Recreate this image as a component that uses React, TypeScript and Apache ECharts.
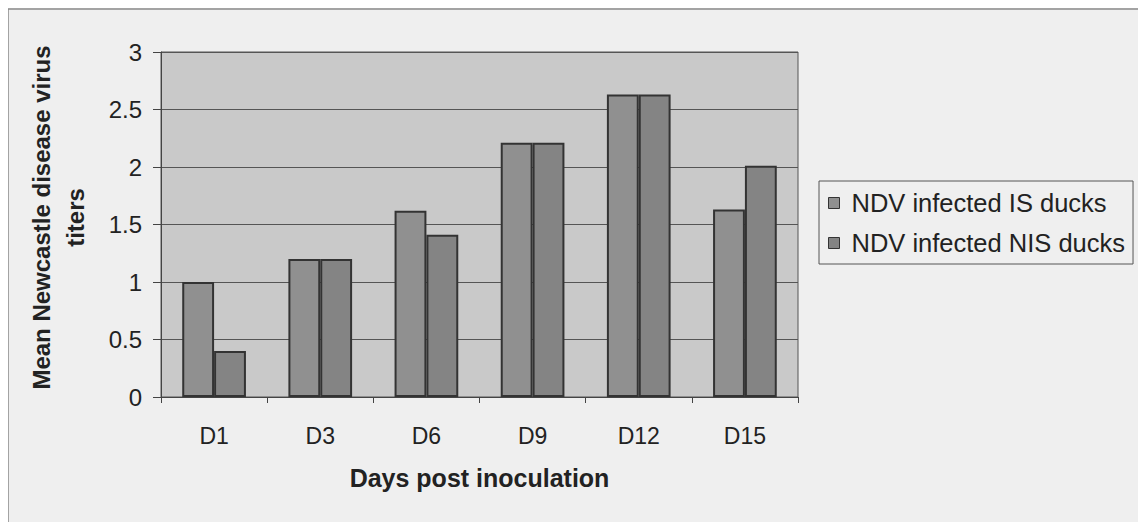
import React, { useEffect, useRef } from "react";
import * as echarts from "echarts";

const categories = ["D1", "D3", "D6", "D9", "D12", "D15"];
const isDucks = [1.0, 1.2, 1.62, 2.21, 2.63, 1.63];
const nisDucks = [0.4, 1.2, 1.41, 2.21, 2.63, 2.01];
const seriesNames = ["NDV infected IS ducks", "NDV infected NIS ducks"];
const yTicks = [0, 0.5, 1, 1.5, 2, 2.5, 3];

export default function App() {
  const ref = useRef<HTMLDivElement>(null);
  useEffect(() => {
    const chart = echarts.init(ref.current!, null, { renderer: "svg" });
    const font = "Arial, 'Liberation Sans', sans-serif";
    chart.setOption({
      animation: false,
      backgroundColor: "#efefef",
      graphic: [
        {
          type: "rect",
          shape: { x: 0, y: 1, width: 1134, height: 520 },
          style: { fill: "none", stroke: "#8a8a8a", lineWidth: 1.5 },
          z: -1,
        },
      ],
      grid: {
        left: 153,
        top: 44,
        width: 637,
        height: 345,
        show: true,
        backgroundColor: "#c9c9c9",
        borderColor: "#555",
        borderWidth: 1,
      },
      legend: {
        orient: "vertical",
        left: 811,
        top: 173,
        itemWidth: 11,
        itemHeight: 11,
        itemGap: 14,
        padding: [9, 8, 8, 9],
        borderColor: "#555",
        borderWidth: 1,
        icon: "rect",
        textStyle: {
          fontFamily: font,
          fontSize: 25.5,
          lineHeight: 25,
          color: "#222",
          padding: [0, 0, 0, 7],
        },
        data: seriesNames.map((n) => ({ name: n, itemStyle: { borderColor: "#333", borderWidth: 1 } })),
      },
      xAxis: {
        type: "category",
        data: categories,
        axisLine: { lineStyle: { color: "#444" } },
        axisTick: { show: true, length: 6, lineStyle: { color: "#444" } },
        axisLabel: { fontFamily: font, fontSize: 23, color: "#222", margin: 27 },
        name: "Days post inoculation",
        nameLocation: "middle",
        nameGap: 68,
        nameTextStyle: { fontFamily: font, fontSize: 25, fontWeight: "bold", color: "#222" },
      },
      yAxis: {
        type: "value",
        min: 0,
        max: 3,
        interval: 0.5,
        axisLine: { show: true, lineStyle: { color: "#444" } },
        axisTick: { show: true, length: 8, inside: false, lineStyle: { color: "#444" } },
        splitLine: { lineStyle: { color: "#555", width: 1 } },
        axisLabel: {
          fontFamily: font,
          fontSize: 24,
          color: "#222",
          margin: 19,
          formatter: (v: number) => (yTicks.includes(v) ? String(v) : ""),
        },
        name: "Mean Newcastle disease virus\ntiters",
        nameLocation: "middle",
        nameGap: 69,
        nameTextStyle: {
          fontFamily: font,
          fontSize: 24,
          fontWeight: "bold",
          color: "#222",
          lineHeight: 34,
          padding: [0, 0, 0, 14],
        },
      },
      series: [
        {
          name: seriesNames[0],
          type: "bar",
          data: isDucks,
          barGap: "0%",
          barCategoryGap: "40%",
          itemStyle: { color: "#909090", borderColor: "#333", borderWidth: 2 },
        },
        {
          name: seriesNames[1],
          type: "bar",
          data: nisDucks,
          itemStyle: { color: "#848484", borderColor: "#333", borderWidth: 2 },
        },
      ],
    });
    return () => chart.dispose();
  }, []);
  return <div ref={ref} style={{ width: 1138, height: 514 }} />;
}
